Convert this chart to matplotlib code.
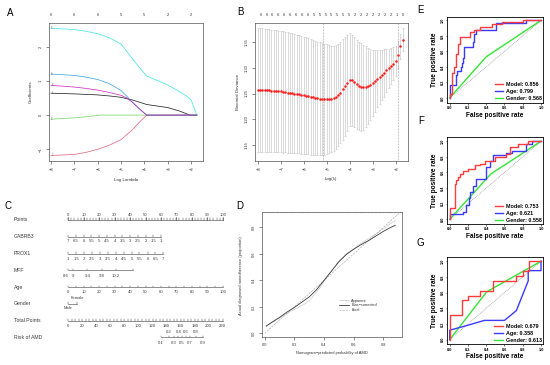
import matplotlib
matplotlib.use("Agg")
import matplotlib.pyplot as plt
from matplotlib.lines import Line2D

plt.rcParams["font.family"] = ["Liberation Sans", "DejaVu Sans"]
plt.rcParams["axes.linewidth"] = 0.5

W, H = 550, 365

# ---------------- data: panel A (lasso coefficient paths) ----------------
a_x_black = [-8.0, -7.0, -6.0, -5.5, -5.0, -4.5, -3.9, -3.5, -3.0, -2.5, -2.05, -1.75]
a_y_black = [0.64, 0.62, 0.59, 0.56, 0.52, 0.44, 0.31, 0.27, 0.22, 0.12, 0.0, 0.0]
a_x_red = [-8.0, -7.0, -6.5, -6.0, -5.5, -5.0, -4.5, -4.2, -3.9, -1.75]
a_y_red = [-1.18, -1.15, -1.09, -1.0, -0.88, -0.72, -0.42, -0.2, 0.0, 0.0]
a_x_green = [-8.0, -7.5, -7.0, -6.5, -5.9, -1.75]
a_y_green = [-0.12, -0.10, -0.08, -0.05, 0.0, 0.0]
a_x_blue = [-8.0, -7.0, -6.5, -6.0, -5.5, -5.0, -4.75, -4.5, -4.2, -3.9, -1.75]
a_y_blue = [1.20, 1.16, 1.11, 1.04, 0.92, 0.72, 0.55, 0.37, 0.17, 0.0, 0.0]
a_x_cyan = [-8.0, -7.0, -6.5, -6.0, -5.5, -5.0, -4.5, -4.2, -3.9, -3.5, -3.0, -2.5, -2.2, -2.0, -1.75]
a_y_cyan = [2.54, 2.50, 2.45, 2.38, 2.26, 2.08, 1.64, 1.38, 1.14, 1.03, 0.88, 0.69, 0.56, 0.45, 0.0]
a_x_magenta = [-8.0, -7.0, -6.5, -6.0, -5.5, -5.0, -4.75, -4.5, -4.2, -3.9, -1.75]
a_y_magenta = [0.87, 0.82, 0.78, 0.73, 0.66, 0.58, 0.50, 0.37, 0.18, 0.0, 0.0]
a_var_ids = ["1", "2", "3", "4", "5", "6"]
a_top_x = [-8, -7, -6, -5, -4, -3, -2]
a_top_df = [6, 6, 6, 5, 5, 2, 2]

# ---------------- data: panel B (cross-validation) ----------------
b_loglam = [-8.0, -7.9, -7.8, -7.7, -7.6, -7.5, -7.4, -7.3, -7.2, -7.1, -7.0,
            -6.9, -6.8, -6.7, -6.6, -6.5, -6.4, -6.3, -6.2, -6.1, -6.0,
            -5.9, -5.8, -5.7, -5.6, -5.5, -5.4, -5.3, -5.2, -5.1, -5.0,
            -4.9, -4.8, -4.7, -4.6, -4.5, -4.4, -4.3, -4.2, -4.1, -4.0,
            -3.9, -3.8, -3.7, -3.6, -3.5, -3.4, -3.3, -3.2, -3.1, -3.0,
            -2.9, -2.8, -2.7, -2.6, -2.5, -2.4, -2.3, -2.2, -2.1, -2.0,
            -1.9, -1.8, -1.7]
b_dev = [1.257, 1.257, 1.257, 1.256, 1.256, 1.256, 1.255, 1.255, 1.255, 1.254, 1.254,
         1.253, 1.253, 1.252, 1.251, 1.251, 1.250, 1.249, 1.249, 1.248, 1.247,
         1.246, 1.245, 1.244, 1.243, 1.242, 1.241, 1.240, 1.239, 1.239, 1.239,
         1.239, 1.240, 1.241, 1.243, 1.247, 1.252, 1.258, 1.264, 1.271, 1.277,
         1.276, 1.272, 1.268, 1.265, 1.263, 1.262, 1.263, 1.264, 1.267, 1.271,
         1.275, 1.279, 1.282, 1.286, 1.290, 1.295, 1.299, 1.304, 1.308, 1.313,
         1.326, 1.342, 1.355]
b_se = [0.121, 0.121, 0.121, 0.120, 0.120, 0.120, 0.119, 0.119, 0.119, 0.118, 0.118,
        0.118, 0.117, 0.117, 0.117, 0.116, 0.116, 0.115, 0.115, 0.115, 0.114,
        0.114, 0.113, 0.113, 0.112, 0.111, 0.110, 0.110, 0.109, 0.108, 0.107,
        0.105, 0.103, 0.102, 0.101, 0.100, 0.099, 0.098, 0.096, 0.094, 0.091,
        0.089, 0.088, 0.087, 0.086, 0.085, 0.083, 0.079, 0.074, 0.069, 0.064,
        0.060, 0.056, 0.052, 0.049, 0.046, 0.042, 0.038, 0.035, 0.032, 0.029,
        0.026, 0.024, 0.023]
b_lambda_min = -5.15
b_lambda_1se = -1.89
b_top_x = [-7.87, -7.61, -7.36, -7.10, -6.84, -6.59, -6.33, -6.07, -5.81, -5.56,
           -5.30, -5.04, -4.79, -4.53, -4.27, -4.01, -3.76, -3.50, -3.24, -2.99,
           -2.73, -2.47, -2.21, -1.96, -1.70]
b_top_df = [6, 6, 6, 6, 6, 6, 6, 6, 6, 5, 5, 5, 5, 5, 5, 5, 2, 2, 2, 2, 2, 2, 2, 1, 0]

# ---------------- data: panel C (nomogram) ----------------
points_lab = [0, 10, 20, 30, 40, 50, 60, 70, 80, 90, 100]
gabrb3_lab = [7, 6.5, 6, 5.5, 5, 4.5, 4, 3.5, 3, 2.5, 2, 1.5, 1]
gabrb3_pts = [0, 5, 10, 15, 20, 25, 30, 35, 40, 45, 50, 55, 60]
prox1_lab = [1, 1.5, 2, 2.5, 3, 3.5, 4, 4.5, 5, 5.5, 6, 6.5, 7]
prox1_pts = [0, 5.1, 10.3, 15.4, 20.5, 25.6, 30.8, 35.9, 41.0, 46.1, 51.3, 56.4, 61.5]
mff_lab = [8.6, 9, 9.4, 9.8, 10.2]
mff_pts = [-1.7, 3.0, 12.3, 21.6, 30.9]
mff_max_pts = 42
age_lab = [0, 10, 20, 30, 40, 50, 60, 70, 80, 90, 100]
gender_lab = ["Male", "Female"]
gender_pts = [0, 5.4]
total_lab = [0, 20, 40, 60, 80, 100, 120, 140, 160, 180, 200, 220]
risk_lab = [0.1, 0.2, 0.3, 0.4, 0.5, 0.6, 0.7, 0.8, 0.9]
risk_total = [132, 143, 150, 157, 162, 167, 173, 181.5, 192]

# ---------------- data: panel D (calibration) ----------------
cal_pred = [0.01, 0.05, 0.10, 0.15, 0.20, 0.25, 0.30, 0.35, 0.40, 0.45,
            0.50, 0.55, 0.60, 0.65, 0.70, 0.75, 0.80, 0.85, 0.88]
cal_bias = [0.055, 0.085, 0.12, 0.16, 0.195, 0.235, 0.275, 0.33, 0.40, 0.47,
            0.54, 0.595, 0.635, 0.67, 0.70, 0.735, 0.77, 0.80, 0.815]
cal_app = [0.05, 0.08, 0.115, 0.15, 0.18, 0.21, 0.245, 0.31, 0.39, 0.47,
           0.545, 0.60, 0.64, 0.68, 0.715, 0.75, 0.79, 0.83, 0.85]
ideal_xy = [0.0, 0.92]
rug_x = [0.03, 0.05, 0.06, 0.08, 0.09, 0.11, 0.12, 0.14, 0.15, 0.17, 0.19, 0.24,
         0.26, 0.28, 0.30, 0.33, 0.35, 0.37, 0.39, 0.42, 0.44, 0.46, 0.48, 0.50,
         0.52, 0.55, 0.57, 0.60, 0.62, 0.65, 0.67, 0.70, 0.72, 0.75, 0.78, 0.80,
         0.83, 0.85, 0.88]

# ---------------- data: panels E, F, G (ROC) ----------------
e_model_fpr = [0, 0, 0.02, 0.03, 0.05, 0.07, 0.09, 0.11, 0.22, 0.27, 0.33, 0.46, 0.57, 0.80, 1.0]
e_model_tpr = [0, 0.05, 0.19, 0.32, 0.40, 0.57, 0.70, 0.78, 0.85, 0.87, 0.92, 0.95, 0.98, 1.0, 1.0]
e_age_fpr = [0, 0, 0.07, 0.08, 0.12, 0.14, 0.15, 0.16, 0.22, 0.26, 0.27, 0.29, 0.51, 0.80, 0.84, 1.0]
e_age_tpr = [0, 0.17, 0.29, 0.35, 0.40, 0.45, 0.51, 0.65, 0.66, 0.72, 0.83, 0.87, 0.96, 0.97, 1.0, 1.0]
e_gender_fpr = [0, 0.40, 1.0]
e_gender_tpr = [0, 0.53, 1.0]
e_auc = ["0.856", "0.799", "0.568"]

f_model_fpr = [0, 0, 0.06, 0.07, 0.09, 0.11, 0.15, 0.20, 0.28, 0.33, 0.39, 0.50, 0.62, 0.66, 0.75, 0.86, 1.0]
f_model_tpr = [0, 0.14, 0.45, 0.50, 0.54, 0.58, 0.62, 0.65, 0.69, 0.71, 0.745, 0.80, 0.84, 0.92, 0.96, 1.0, 1.0]
f_age_fpr = [0, 0, 0.15, 0.18, 0.21, 0.22, 0.25, 0.29, 0.40, 0.44, 0.47, 0.62, 0.68, 0.84, 0.90, 1.0]
f_age_tpr = [0, 0.07, 0.10, 0.18, 0.27, 0.35, 0.43, 0.52, 0.67, 0.75, 0.82, 0.85, 0.88, 0.96, 1.0, 1.0]
f_gender_fpr = [0, 0.45, 1.0]
f_gender_tpr = [0, 0.58, 1.0]
f_auc = ["0.753", "0.621", "0.558"]

g_model_fpr = [0, 0, 0.13, 0.20, 0.33, 0.47, 0.73, 0.80, 0.87, 1.0]
g_model_tpr = [0, 0.31, 0.50, 0.56, 0.62, 0.75, 0.81, 0.88, 1.0, 1.0]
g_age_fpr = [0, 0, 0.19, 0.38, 0.60, 0.73, 0.86, 0.86, 1.0, 1.0]
g_age_tpr = [0, 0.12, 0.18, 0.245, 0.245, 0.37, 0.75, 0.88, 0.88, 1.0]
g_gender_fpr = [0, 0.405, 1.0]
g_gender_tpr = [0, 0.61, 1.0]
g_auc = ["0.679", "0.358", "0.613"]

# ---------------- helpers ----------------
fig = plt.figure(figsize=(W / 100, H / 100), dpi=100)
fig.patch.set_facecolor("white")


def px_axes(left, top, right, bottom):
    return fig.add_axes([left / W, 1 - bottom / H, (right - left) / W, (bottom - top) / H])


def ftext(x, y, s, **kw):
    kw.setdefault("ha", "center")
    kw.setdefault("va", "center")
    fig.text(x / W, 1 - y / H, s, **kw)


def r_style(ax, size=3.0):
    ax.tick_params(labelsize=size, length=2, width=0.4, pad=2.5, colors="#333333")
    for lab in ax.get_yticklabels():
        lab.set_rotation(90)
        lab.set_va("center")
    for sp in ax.spines.values():
        sp.set_color("#555555")
        sp.set_linewidth(0.5)


# panel letters
for letter, lx, ly in [("A", 10, 13), ("B", 240.7, 12), ("C", 8.3, 206), ("D", 240, 206),
                       ("E", 420.7, 10), ("F", 420.7, 121), ("G", 420.7, 243)]:
    ftext(lx, ly, letter, fontsize=7)

# ---------------- panel A ----------------
axA = px_axes(49.3, 22.7, 202.7, 161.3)
r_cols = ["#000000", "#DF536B", "#61D04F", "#2297E6", "#28E2E5", "#CD0BBC"]
a_paths = [(a_x_black, a_y_black), (a_x_red, a_y_red), (a_x_green, a_y_green),
           (a_x_blue, a_y_blue), (a_x_cyan, a_y_cyan), (a_x_magenta, a_y_magenta)]
for (xs, ys), col, vid in zip(a_paths, r_cols, a_var_ids):
    axA.plot(xs, ys, color=col, lw=0.55, alpha=0.85)
    axA.text(xs[0] + 0.02, ys[0], vid, fontsize=1.8, color="#555555", ha="left", va="center")
axA.set_xlim(-8.07, -1.5)
axA.set_ylim(-1.35, 2.70)
axA.set_xticks([-8, -7, -6, -5, -4, -3, -2])
axA.set_yticks([-1, 0, 1, 2])
r_style(axA)
for xv, d in zip(a_top_x, a_top_df):
    axA.text(xv, 1.055, str(d), transform=axA.get_xaxis_transform(),
             fontsize=3.0, ha="center", va="center", color="#333333")
ftext(126, 180, "Log Lambda", fontsize=3.2, color="#333333")
ftext(30.7, 92, "Coefficients", fontsize=3.2, rotation=90, color="#333333")

# ---------------- panel B ----------------
axB = px_axes(255.3, 22.7, 408.3, 161.3)
axB.errorbar(b_loglam, b_dev, yerr=b_se, fmt="none", ecolor="#c4c4c4",
             elinewidth=0.45, capsize=0.9, capthick=0.45)
axB.plot(b_loglam, b_dev, "o", color="#ff1a1a", ms=1.8, mew=0)
for xv in (b_lambda_min, b_lambda_1se):
    axB.axvline(xv, color="#888888", lw=0.45, ls=(0, (1.2, 1.2)))
axB.set_xlim(-8.10, -1.45)
axB.set_ylim(1.118, 1.388)
axB.set_xticks([-8, -7, -6, -5, -4, -3, -2])
axB.set_yticks([1.15, 1.20, 1.25, 1.30, 1.35])
axB.set_yticklabels(["1.15", "1.20", "1.25", "1.30", "1.35"])
r_style(axB)
for xv, d in zip(b_top_x, b_top_df):
    axB.text(xv, 1.055, str(d), transform=axB.get_xaxis_transform(),
             fontsize=3.0, ha="center", va="center", color="#333333")
ftext(331, 179, "Log(\u03bb)", fontsize=3.2, color="#333333")
ftext(237.7, 92, "Binomial Deviance", fontsize=3.2, rotation=90, color="#333333")

# ---------------- panel C (nomogram) ----------------
px0, px_per_pt = 68.3, 1.544
axC = px_axes(0, 195, 260, 355)
axC.set_xlim((0 - px0) / px_per_pt, (260 - px0) / px_per_pt)
axC.set_ylim(355, 195)
axC.axis("off")
nc = "#3c3c3c"
lab_x = (14 - px0) / px_per_pt
tk = 1.6
tfs = 3.1


def nomo_line(y, p_start, p_end, tick_pts):
    axC.plot([p_start, p_end], [y, y], color=nc, lw=0.4)
    for p in tick_pts:
        axC.plot([p, p], [y, y - tk], color=nc, lw=0.35)


row_y = {"Points": 219.7, "GABRB3": 236.7, "PROX1": 253.7, "MFF": 270.3,
         "Age": 287.3, "Gender": 303.7, "Total Points": 321.0, "Risk of AMD": 337.3}
for name, yv in row_y.items():
    axC.text(lab_x, yv, name, fontsize=3.7, color=nc, ha="left", va="center")

# Points
nomo_line(row_y["Points"], 0, 100, list(range(0, 101, 2)))
for p in points_lab:
    axC.plot([p, p], [row_y["Points"], row_y["Points"] - 2.3], color=nc, lw=0.4)
    axC.text(p, 214.7, f"{p:g}", fontsize=tfs, color=nc, ha="center", va="center")
# GABRB3
nomo_line(row_y["GABRB3"], gabrb3_pts[0], gabrb3_pts[-1], gabrb3_pts)
for v, p in zip(gabrb3_lab, gabrb3_pts):
    axC.text(p, 241.3, f"{v:g}", fontsize=tfs, color=nc, ha="center", va="center")
# PROX1
nomo_line(row_y["PROX1"], prox1_pts[0], prox1_pts[-1], prox1_pts)
for v, p in zip(prox1_lab, prox1_pts):
    axC.text(p, 258.7, f"{v:g}", fontsize=tfs, color=nc, ha="center", va="center")
# MFF
nomo_line(row_y["MFF"], 0, mff_max_pts, [0] + mff_pts[1:] + [mff_max_pts])
for v, p in zip(mff_lab, mff_pts):
    axC.text(p, 275.7, f"{v:g}", fontsize=tfs, color=nc, ha="center", va="center")
# Age
nomo_line(row_y["Age"], 0, 100, list(range(0, 101, 5)))
for v in age_lab:
    axC.text(v, 292.3, f"{v:g}", fontsize=tfs, color=nc, ha="center", va="center")
# Gender
nomo_line(row_y["Gender"], gender_pts[0], gender_pts[1], gender_pts)
axC.text(gender_pts[1] + 0.5, 298.3, gender_lab[1], fontsize=2.9, color=nc, ha="center", va="center")
axC.text(gender_pts[0], 307.9, gender_lab[0], fontsize=2.9, color=nc, ha="center", va="center")
# Total points
tot_scale = 100 / 220
nomo_line(row_y["Total Points"], 0, 100, [t * tot_scale for t in range(0, 221, 5)])
for t in total_lab:
    axC.text(t * tot_scale, 326.2, f"{t:g}", fontsize=tfs, color=nc, ha="center", va="center")
# Risk
r_pts = [t * tot_scale for t in risk_total]
nomo_line(row_y["Risk of AMD"], r_pts[0], r_pts[-1], r_pts)
for i, (v, p) in enumerate(zip(risk_lab, r_pts)):
    yy = 332.0 if i % 2 == 1 else 343.0
    axC.text(p, yy, f"{v:g}", fontsize=tfs, color=nc, ha="center", va="center")

# ---------------- panel D (calibration) ----------------
axD = px_axes(261.7, 211.7, 401.7, 336.5)
axD.plot(ideal_xy, ideal_xy, color="#b0b0b0", lw=0.5, ls=(0, (3, 1.5)))
axD.plot(cal_pred, cal_app, color="#a8a8a8", lw=0.55, ls=(0, (1, 0.8)))
axD.plot(cal_pred, cal_bias, color="#3a3a3a", lw=0.6)
for xv in rug_x:
    axD.plot([xv, xv], [0.918, 0.906], color="#9a9a9a", lw=0.3)
axD.set_xlim(-0.02, 0.923)
axD.set_ylim(-0.024, 0.918)
axD.set_xticks([0.0, 0.2, 0.4, 0.6, 0.8])
axD.set_yticks([0.0, 0.2, 0.4, 0.6, 0.8])
axD.set_xticklabels(["0.0", "0.2", "0.4", "0.6", "0.8"])
axD.set_yticklabels(["0.0", "0.2", "0.4", "0.6", "0.8"])
r_style(axD, size=2.8)
leg_h = [Line2D([], [], color="#a8a8a8", lw=0.55, ls=(0, (1, 0.8))),
         Line2D([], [], color="#3a3a3a", lw=0.6),
         Line2D([], [], color="#b0b0b0", lw=0.5, ls=(0, (3, 1.5)))]
axD.legend(leg_h, ["Apparent", "Bias\u2212corrected", "Ideal"], frameon=False,
           fontsize=2.8, loc="upper left", bbox_to_anchor=(0.54, 0.32),
           handlelength=2.6, labelspacing=0.25, borderpad=0, handletextpad=0.5,
           labelcolor="#333333")
ftext(331.7, 353.3, "Nomogram\u2212predicted probability of AMD", fontsize=2.9, color="#333333")
ftext(240.7, 276, "Actual diagnosed nonadherence (proportion)", fontsize=2.9,
      rotation=90, color="#333333")

# ---------------- panels E, F, G (ROC) ----------------
c_model, c_age, c_gender = "#ff3b3b", "#3b3bff", "#33e633"


def roc_panel(top, bottom, model, age, gender, aucs, age_step=True):
    ax = px_axes(446.7, top, 543.3, bottom)
    ax.plot([0, 1], [0, 1], color="#8c8c8c", lw=0.5, ls=(0, (1.2, 1.2)))
    ax.plot(gender[0], gender[1], color=c_gender, lw=1.0)
    if age_step:
        ax.step(age[0], age[1], where="post", color=c_age, lw=1.0)
    else:
        ax.plot(age[0], age[1], color=c_age, lw=1.0)
    ax.step(model[0], model[1], where="post", color=c_model, lw=1.0)
    ax.set_xlim(-0.033, 1.025)
    ax.set_ylim(-0.06, 1.05)
    ticks = [0.0, 0.2, 0.4, 0.6, 0.8, 1.0]
    ax.set_xticks(ticks)
    ax.set_yticks(ticks)
    ax.set_xticklabels([f"{t:.1f}" for t in ticks])
    ax.set_yticklabels([f"{t:.1f}" for t in ticks])
    ax.tick_params(axis="x", labelsize=2.8, length=1.3, width=0.4, pad=1.2)
    ax.tick_params(axis="y", labelsize=2.8, length=1.0, width=0.4, pad=0.6)
    for lab in ax.get_xticklabels() + ax.get_yticklabels():
        lab.set_fontweight("bold")
    for lab in ax.get_yticklabels():
        lab.set_rotation(90)
        lab.set_va("center")
    for sp in ax.spines.values():
        sp.set_linewidth(0.6)
    handles = [Line2D([], [], color=c, lw=1.0) for c in (c_model, c_age, c_gender)]
    labels = [f"Model: {aucs[0]}", f"Age: {aucs[1]}", f"Gender: {aucs[2]}"]
    ax.legend(handles, labels, loc="lower right", frameon=False,
              prop={"size": 3.9, "weight": "bold"}, handlelength=1.6,
              handletextpad=0.5, labelspacing=0.35, borderaxespad=0.15, borderpad=0.1)
    mid = (top + bottom) / 2
    ftext(434.3, mid, "True positive rate", fontsize=4.7, fontweight="bold", rotation=90)
    ftext(495, bottom + 12.7, "False positive rate", fontsize=4.7, fontweight="bold")
    return ax


roc_panel(16.5, 102.5, (e_model_fpr, e_model_tpr), (e_age_fpr, e_age_tpr),
          (e_gender_fpr, e_gender_tpr), e_auc)
roc_panel(137.3, 224.0, (f_model_fpr, f_model_tpr), (f_age_fpr, f_age_tpr),
          (f_gender_fpr, f_gender_tpr), f_auc)
roc_panel(257.3, 344.3, (g_model_fpr, g_model_tpr), (g_age_fpr, g_age_tpr),
          (g_gender_fpr, g_gender_tpr), g_auc, age_step=False)

fig.savefig("out.png", dpi=100, facecolor="white")
